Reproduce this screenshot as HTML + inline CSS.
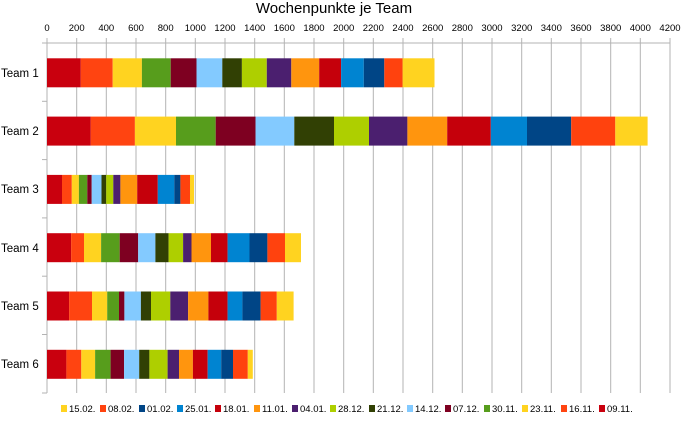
<!DOCTYPE html>
<html><head><meta charset="utf-8"><style>
body{margin:0;background:#fff;}
svg{display:block;font-family:"Liberation Sans",sans-serif;}
</style></head><body>
<svg width="684" height="424" xmlns="http://www.w3.org/2000/svg">
<rect width="684" height="424" fill="#fff"/>
<text x="334" y="13" font-size="15" text-anchor="middle" fill="#000">Wochenpunkte je Team</text>
<g stroke="#b3b3b3" stroke-width="1">
<line x1="47" y1="38" x2="47" y2="393"/>
<line x1="76.7" y1="38" x2="76.7" y2="393"/>
<line x1="106.3" y1="38" x2="106.3" y2="393"/>
<line x1="136" y1="38" x2="136" y2="393"/>
<line x1="165.7" y1="38" x2="165.7" y2="393"/>
<line x1="195.3" y1="38" x2="195.3" y2="393"/>
<line x1="225" y1="38" x2="225" y2="393"/>
<line x1="254.7" y1="38" x2="254.7" y2="393"/>
<line x1="284.3" y1="38" x2="284.3" y2="393"/>
<line x1="314" y1="38" x2="314" y2="393"/>
<line x1="343.7" y1="38" x2="343.7" y2="393"/>
<line x1="373.3" y1="38" x2="373.3" y2="393"/>
<line x1="403" y1="38" x2="403" y2="393"/>
<line x1="432.7" y1="38" x2="432.7" y2="393"/>
<line x1="462.3" y1="38" x2="462.3" y2="393"/>
<line x1="492" y1="38" x2="492" y2="393"/>
<line x1="521.7" y1="38" x2="521.7" y2="393"/>
<line x1="551.3" y1="38" x2="551.3" y2="393"/>
<line x1="581" y1="38" x2="581" y2="393"/>
<line x1="610.7" y1="38" x2="610.7" y2="393"/>
<line x1="640.3" y1="38" x2="640.3" y2="393"/>
<line x1="670" y1="38" x2="670" y2="393"/>
<line x1="42" y1="43" x2="670" y2="43"/>
<line x1="42" y1="101.3" x2="47" y2="101.3"/>
<line x1="42" y1="159.6" x2="47" y2="159.6"/>
<line x1="42" y1="217.9" x2="47" y2="217.9"/>
<line x1="42" y1="276.2" x2="47" y2="276.2"/>
<line x1="42" y1="334.5" x2="47" y2="334.5"/>
<line x1="42" y1="393" x2="47" y2="393"/>
</g>
<g font-size="9.5" text-anchor="middle" fill="#000">
<text x="47" y="31">0</text><text x="76.7" y="31">200</text><text x="106.3" y="31">400</text><text x="136" y="31">600</text><text x="165.7" y="31">800</text><text x="195.3" y="31">1000</text><text x="225" y="31">1200</text><text x="254.7" y="31">1400</text><text x="284.3" y="31">1600</text><text x="314" y="31">1800</text><text x="343.7" y="31">2000</text><text x="373.3" y="31">2200</text><text x="403" y="31">2400</text><text x="432.7" y="31">2600</text><text x="462.3" y="31">2800</text><text x="492" y="31">3000</text><text x="521.7" y="31">3200</text><text x="551.3" y="31">3400</text><text x="581" y="31">3600</text><text x="610.7" y="31">3800</text><text x="640.3" y="31">4000</text><text x="670" y="31">4200</text>
</g>
<g font-size="11.5" fill="#000">
<text x="1" y="77">Team 1</text><text x="1" y="135">Team 2</text><text x="1" y="193">Team 3</text><text x="1" y="252">Team 4</text><text x="1" y="310">Team 5</text><text x="1" y="368">Team 6</text>
</g>
<!-- Team 1 -->
<g>
<rect x="47" y="58.3" width="33.8" height="29" fill="#c9000e"/>
<rect x="80.8" y="58.3" width="31.9" height="29" fill="#ff4411"/>
<rect x="112.7" y="58.3" width="29.2" height="29" fill="#ffd320"/>
<rect x="141.9" y="58.3" width="28.8" height="29" fill="#579d1c"/>
<rect x="170.7" y="58.3" width="25.8" height="29" fill="#7e0021"/>
<rect x="196.5" y="58.3" width="25.8" height="29" fill="#83caff"/>
<rect x="222.3" y="58.3" width="19.6" height="29" fill="#314004"/>
<rect x="241.9" y="58.3" width="24.9" height="29" fill="#aecf00"/>
<rect x="266.8" y="58.3" width="24.5" height="29" fill="#4b1f6f"/>
<rect x="291.3" y="58.3" width="27.9" height="29" fill="#ff950e"/>
<rect x="319.2" y="58.3" width="21.9" height="29" fill="#c5000b"/>
<rect x="341.1" y="58.3" width="22.7" height="29" fill="#0084d1"/>
<rect x="363.8" y="58.3" width="20.5" height="29" fill="#004586"/>
<rect x="384.3" y="58.3" width="18.3" height="29" fill="#ff420e"/>
<rect x="402.6" y="58.3" width="31.9" height="29" fill="#ffd320"/>
</g>
<!-- Team 2 -->
<g>
<rect x="47" y="116.6" width="43.8" height="29" fill="#c9000e"/>
<rect x="90.8" y="116.6" width="44.1" height="29" fill="#ff4411"/>
<rect x="134.9" y="116.6" width="41.1" height="29" fill="#ffd320"/>
<rect x="176" y="116.6" width="39.7" height="29" fill="#579d1c"/>
<rect x="215.7" y="116.6" width="39.8" height="29" fill="#7e0021"/>
<rect x="255.5" y="116.6" width="38.8" height="29" fill="#83caff"/>
<rect x="294.3" y="116.6" width="39.7" height="29" fill="#314004"/>
<rect x="334" y="116.6" width="35" height="29" fill="#aecf00"/>
<rect x="369" y="116.6" width="38.4" height="29" fill="#4b1f6f"/>
<rect x="407.4" y="116.6" width="39.8" height="29" fill="#ff950e"/>
<rect x="447.2" y="116.6" width="43.6" height="29" fill="#c5000b"/>
<rect x="490.8" y="116.6" width="36.2" height="29" fill="#0084d1"/>
<rect x="527" y="116.6" width="44.2" height="29" fill="#004586"/>
<rect x="571.2" y="116.6" width="44.1" height="29" fill="#ff420e"/>
<rect x="615.3" y="116.6" width="32.3" height="29" fill="#ffd320"/>
</g>
<!-- Team 3 -->
<g>
<rect x="47" y="174.9" width="15" height="29" fill="#c9000e"/>
<rect x="62" y="174.9" width="9.8" height="29" fill="#ff4411"/>
<rect x="71.8" y="174.9" width="7.1" height="29" fill="#ffd320"/>
<rect x="78.9" y="174.9" width="8.4" height="29" fill="#579d1c"/>
<rect x="87.3" y="174.9" width="4.4" height="29" fill="#7e0021"/>
<rect x="91.7" y="174.9" width="9.8" height="29" fill="#83caff"/>
<rect x="101.5" y="174.9" width="4.7" height="29" fill="#314004"/>
<rect x="106.2" y="174.9" width="7.1" height="29" fill="#aecf00"/>
<rect x="113.3" y="174.9" width="7.1" height="29" fill="#4b1f6f"/>
<rect x="120.4" y="174.9" width="16.8" height="29" fill="#ff950e"/>
<rect x="137.2" y="174.9" width="20.6" height="29" fill="#c5000b"/>
<rect x="157.8" y="174.9" width="16.5" height="29" fill="#0084d1"/>
<rect x="174.3" y="174.9" width="6.1" height="29" fill="#004586"/>
<rect x="180.4" y="174.9" width="9.6" height="29" fill="#ff420e"/>
<rect x="190" y="174.9" width="4" height="29" fill="#ffd320"/>
</g>
<!-- Team 4 -->
<g>
<rect x="47" y="233.2" width="24.1" height="29" fill="#c9000e"/>
<rect x="71.1" y="233.2" width="12.9" height="29" fill="#ff4411"/>
<rect x="84" y="233.2" width="17.1" height="29" fill="#ffd320"/>
<rect x="101.1" y="233.2" width="18.6" height="29" fill="#579d1c"/>
<rect x="119.7" y="233.2" width="18.5" height="29" fill="#7e0021"/>
<rect x="138.2" y="233.2" width="17.2" height="29" fill="#83caff"/>
<rect x="155.4" y="233.2" width="13.2" height="29" fill="#314004"/>
<rect x="168.6" y="233.2" width="14.5" height="29" fill="#aecf00"/>
<rect x="183.1" y="233.2" width="8.4" height="29" fill="#4b1f6f"/>
<rect x="191.5" y="233.2" width="19.5" height="29" fill="#ff950e"/>
<rect x="211" y="233.2" width="16.6" height="29" fill="#c5000b"/>
<rect x="227.6" y="233.2" width="21.9" height="29" fill="#0084d1"/>
<rect x="249.5" y="233.2" width="17.9" height="29" fill="#004586"/>
<rect x="267.4" y="233.2" width="17.6" height="29" fill="#ff420e"/>
<rect x="285" y="233.2" width="16" height="29" fill="#ffd320"/>
</g>
<!-- Team 5 -->
<g>
<rect x="47" y="291.5" width="22.1" height="29" fill="#c9000e"/>
<rect x="69.1" y="291.5" width="22.9" height="29" fill="#ff4411"/>
<rect x="92" y="291.5" width="15.2" height="29" fill="#ffd320"/>
<rect x="107.2" y="291.5" width="11.8" height="29" fill="#579d1c"/>
<rect x="119" y="291.5" width="5.4" height="29" fill="#7e0021"/>
<rect x="124.4" y="291.5" width="16.5" height="29" fill="#83caff"/>
<rect x="140.9" y="291.5" width="10.1" height="29" fill="#314004"/>
<rect x="151" y="291.5" width="19.3" height="29" fill="#aecf00"/>
<rect x="170.3" y="291.5" width="17.8" height="29" fill="#4b1f6f"/>
<rect x="188.1" y="291.5" width="20.3" height="29" fill="#ff950e"/>
<rect x="208.4" y="291.5" width="19.2" height="29" fill="#c5000b"/>
<rect x="227.6" y="291.5" width="14.8" height="29" fill="#0084d1"/>
<rect x="242.4" y="291.5" width="18.2" height="29" fill="#004586"/>
<rect x="260.6" y="291.5" width="16.2" height="29" fill="#ff420e"/>
<rect x="276.8" y="291.5" width="16.8" height="29" fill="#ffd320"/>
</g>
<!-- Team 6 -->
<g>
<rect x="47" y="349.8" width="19.4" height="29" fill="#c9000e"/>
<rect x="66.4" y="349.8" width="14.9" height="29" fill="#ff4411"/>
<rect x="81.3" y="349.8" width="13.8" height="29" fill="#ffd320"/>
<rect x="95.1" y="349.8" width="15.5" height="29" fill="#579d1c"/>
<rect x="110.6" y="349.8" width="13.5" height="29" fill="#7e0021"/>
<rect x="124.1" y="349.8" width="15.1" height="29" fill="#83caff"/>
<rect x="139.2" y="349.8" width="10.2" height="29" fill="#314004"/>
<rect x="149.4" y="349.8" width="18.2" height="29" fill="#aecf00"/>
<rect x="167.6" y="349.8" width="11.4" height="29" fill="#4b1f6f"/>
<rect x="179" y="349.8" width="13.9" height="29" fill="#ff950e"/>
<rect x="192.9" y="349.8" width="14.8" height="29" fill="#c5000b"/>
<rect x="207.7" y="349.8" width="13.5" height="29" fill="#0084d1"/>
<rect x="221.2" y="349.8" width="11.8" height="29" fill="#004586"/>
<rect x="233" y="349.8" width="14.8" height="29" fill="#ff420e"/>
<rect x="247.8" y="349.8" width="5" height="29" fill="#ffd320"/>
</g>
<!-- Legend -->
<g font-size="9.5" fill="#000">
<rect x="61" y="405" width="6" height="7" fill="#ffd320"/><text x="69" y="412">15.02.</text>
<rect x="100" y="405" width="6" height="7" fill="#ff420e"/><text x="108" y="412">08.02.</text>
<rect x="139" y="405" width="6" height="7" fill="#004586"/><text x="147" y="412">01.02.</text>
<rect x="177" y="405" width="6" height="7" fill="#0084d1"/><text x="185" y="412">25.01.</text>
<rect x="215" y="405" width="6" height="7" fill="#c5000b"/><text x="223" y="412">18.01.</text>
<rect x="254" y="405" width="6" height="7" fill="#ff950e"/><text x="262" y="412">11.01.</text>
<rect x="292" y="405" width="6" height="7" fill="#4b1f6f"/><text x="300" y="412">04.01.</text>
<rect x="330" y="405" width="6" height="7" fill="#aecf00"/><text x="338" y="412">28.12.</text>
<rect x="369" y="405" width="6" height="7" fill="#314004"/><text x="377" y="412">21.12.</text>
<rect x="407" y="405" width="6" height="7" fill="#83caff"/><text x="415" y="412">14.12.</text>
<rect x="445" y="405" width="6" height="7" fill="#7e0021"/><text x="453" y="412">07.12.</text>
<rect x="484" y="405" width="6" height="7" fill="#579d1c"/><text x="492" y="412">30.11.</text>
<rect x="522" y="405" width="6" height="7" fill="#ffd320"/><text x="530" y="412">23.11.</text>
<rect x="561" y="405" width="6" height="7" fill="#ff4411"/><text x="569" y="412">16.11.</text>
<rect x="599" y="405" width="6" height="7" fill="#c9000e"/><text x="607" y="412">09.11.</text>
</g>
</svg>
</body></html>
